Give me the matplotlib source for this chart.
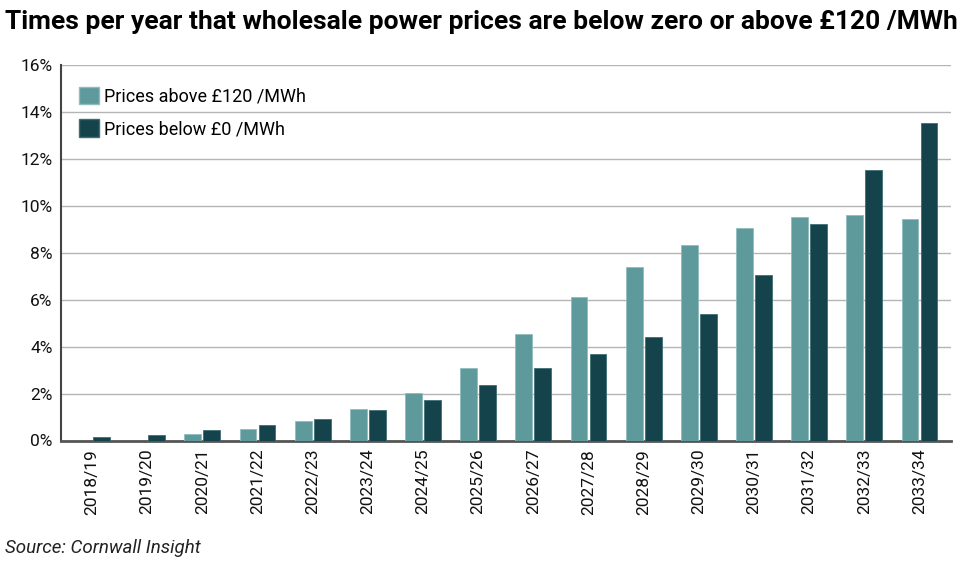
import matplotlib
matplotlib.use("Agg")
import matplotlib.pyplot as plt
import numpy as np
from matplotlib.patches import Patch

years = ["2018/19", "2019/20", "2020/21", "2021/22", "2022/23", "2023/24", "2024/25", "2025/26",
         "2026/27", "2027/28", "2028/29", "2029/30", "2030/31", "2031/32", "2032/33", "2033/34"]
above_120 = [0.0, 0.0, 0.29, 0.50, 0.85, 1.35, 2.03, 3.10, 4.55, 6.13, 7.41, 8.31, 9.07, 9.54, 9.59, 9.42]
below_0 = [0.13, 0.24, 0.46, 0.67, 0.90, 1.28, 1.74, 2.38, 3.10, 3.70, 4.42, 5.41, 7.07, 9.24, 11.51, 13.51]
yticks = [0, 2, 4, 6, 8, 10, 12, 14, 16]

LIGHT = "#5e9a9c"
DARK = "#14434c"
FONT = ["Roboto", "DejaVu Sans"]

plt.rcParams["font.family"] = FONT
fig = plt.figure(figsize=(9.69, 5.67), dpi=100)
ax = fig.add_axes([61 / 969, 1 - 440.5 / 567, (951 - 61) / 969, (440.5 - 65) / 567])

x = np.arange(len(years))
w = 0.305
off = 0.172
ax.bar(x - off, above_120, width=w, color=LIGHT, edgecolor="#8fbcbd", linewidth=0.6, zorder=3)
ax.bar(x + off, below_0, width=w, color=DARK, edgecolor="#3f6e75", linewidth=0.6, zorder=3)

ax.set_xlim(-0.56, 15.57)
ax.set_ylim(0, 16)
ax.set_yticks(yticks)
ax.set_yticklabels([f"{v}%" for v in yticks], fontsize=12.5, color="#111111")
ax.set_xticks(x)
ax.set_xticklabels(years, rotation=90, fontsize=12.5, color="#111111")
ax.tick_params(axis="both", length=0, pad=6)

ax.grid(axis="y", color="#b5b5b5", linewidth=1.0, zorder=0)
ax.set_axisbelow(True)
for s in ["top", "right"]:
    ax.spines[s].set_visible(False)
ax.spines["left"].set_color("#444444")
ax.spines["left"].set_linewidth(1.5)
ax.spines["bottom"].set_color("#555555")
ax.spines["bottom"].set_linewidth(2)

handles = [Patch(facecolor=LIGHT, edgecolor="#8fbcbd", label="Prices above £120 /MWh"),
           Patch(facecolor=DARK, edgecolor="#3f6e75", label="Prices below £0 /MWh")]
leg = ax.legend(handles=handles, loc="upper left", bbox_to_anchor=(0.002, 0.985), frameon=False,
                fontsize=13, handlelength=1.1, handleheight=1.1, handletextpad=0.3, labelspacing=0.75)

fig.text(5 / 969, 1 - 22 / 567, "Times per year that wholesale power prices are below zero or above £120 /MWh",
         fontsize=19, fontweight="bold", ha="left", va="center", color="#000000")
fig.text(5 / 969, 1 - 548 / 567, "Source: Cornwall Insight", fontsize=13.5, style="italic",
         ha="left", va="center", color="#222222")

fig.savefig("out.png", dpi=100)
